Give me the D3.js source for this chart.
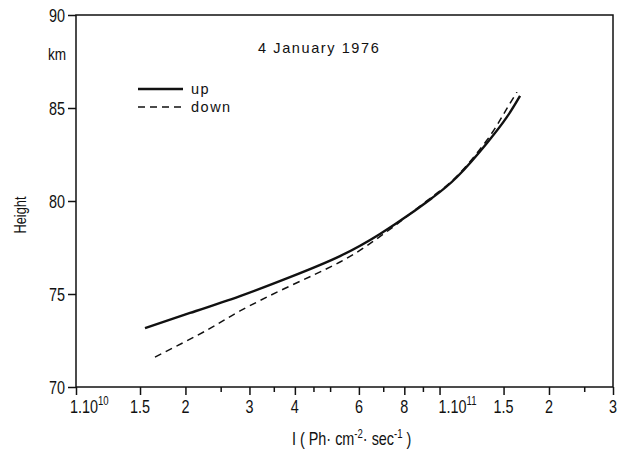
<!DOCTYPE html>
<html>
<head>
<meta charset="utf-8">
<script src="https://cdn.jsdelivr.net/npm/d3@7"></script>
<style>
  body { margin: 0; background: #fff; }
  svg { display: block; }
</style>
</head>
<body>
<div id="chart"></div>
<script>
// height profiles, I in Ph cm-2 sec-1, height in km
const upI = [1.548e10, 2.059e10, 2.826e10, 3.878e10, 5.324e10, 6.859e10, 8.293e10, 9.533e10, 1.117e11, 1.351e11, 1.533e11, 1.665e11];
const upH = [73.17, 73.98, 74.89, 75.91, 77.04, 78.23, 79.30, 80.16, 81.29, 83.12, 84.52, 85.65];
const downI = [1.649e10, 2.293e10, 2.826e10, 3.878e10, 5.324e10, 6.646e10, 8.035e10, 9.533e10, 1.117e11, 1.351e11, 1.495e11, 1.633e11];
const downH = [71.61, 73.06, 74.09, 75.43, 76.72, 77.90, 79.09, 80.22, 81.34, 83.28, 84.62, 85.86];

const xMajor = [1e10, 1.5e10, 2e10, 3e10, 4e10, 6e10, 8e10, 1e11, 1.5e11, 2e11, 3e11];
const xMajorLabels = ['1.10', '1.5', '2', '3', '4', '6', '8', '1.10', '1.5', '2', '3'];
const xMajorExp = ['10', '', '', '', '', '', '', '11', '', '', ''];
const xMinor = [2.5e10, 3.5e10, 4.5e10, 5e10, 7e10, 9e10, 2.5e11];
const yTicks = [70, 75, 80, 85, 90];

const W = 626, H = 449;
const margin = { top: 15, right: 13, bottom: 62, left: 76 };
const width = W - margin.left - margin.right;
const height = H - margin.top - margin.bottom;

const font = '"Liberation Sans", Arial, sans-serif';
const ink = '#111';
const squeeze = 0.8; // condensed look of the axis lettering

const svg = d3.select('#chart')
  .append('svg')
  .attr('width', W)
  .attr('height', H)
  .append('g')
  .attr('transform', `translate(${margin.left},${margin.top})`);

// narrow text: a group that is squeezed horizontally
function narrowText(px, py, size, anchor) {
  return svg.append('g')
    .attr('transform', `translate(${px},${py}) scale(${squeeze},1)`)
    .append('text')
    .attr('text-anchor', anchor)
    .attr('font-family', font)
    .attr('font-size', size)
    .attr('fill', ink);
}

const x = d3.scaleLog()
  .domain([1e10, 3e11])
  .range([0, width]);

const y = d3.scaleLinear()
  .domain([70, 90])
  .range([height, 0]);

// frame
svg.append('rect')
  .attr('width', width)
  .attr('height', height)
  .attr('fill', 'none')
  .attr('stroke', ink)
  .attr('stroke-width', 1.5);

// x axis: major and minor ticks
const xAxis = svg.append('g')
  .attr('transform', `translate(0,${height})`)
  .call(d3.axisBottom(x).tickValues(xMajor).tickSize(8).tickFormat(''));
xAxis.append('g')
  .call(d3.axisBottom(x).tickValues(xMinor).tickSize(5).tickFormat(''));
xAxis.selectAll('.domain').remove();
xAxis.selectAll('line').attr('stroke', ink).attr('stroke-width', 1.5);

xMajor.forEach((d, i) => {
  const hasExp = xMajorExp[i] !== '';
  const t = narrowText(x(d) + (hasExp ? (i === 0 ? -6 : -1) : 0), height + 26, 18, hasExp ? 'start' : 'middle');
  t.append('tspan').text(xMajorLabels[i]);
  if (hasExp) {
    t.append('tspan').attr('dy', -8).attr('font-size', 12).text(xMajorExp[i]);
  }
});

// y axis
const yAxis = svg.append('g')
  .call(d3.axisLeft(y).tickValues(yTicks).tickSize(8).tickFormat(''));
yAxis.selectAll('.domain').remove();
yAxis.selectAll('line').attr('stroke', ink).attr('stroke-width', 1.5);

yTicks.forEach(v => {
  narrowText(-11, y(v) + 6.5, 18, 'end').text(v);
});

narrowText(-10, 45, 17, 'end').text('km');

svg.append('g')
  .attr('transform', `translate(-50,200) rotate(-90) scale(${squeeze},1)`)
  .append('text')
  .attr('text-anchor', 'middle')
  .attr('font-family', font)
  .attr('font-size', 16)
  .attr('fill', ink)
  .text('Height');

// x title
const xt = narrowText(216, height + 58, 18, 'start');
xt.append('tspan').text('I ( Ph\u00b7 cm');
xt.append('tspan').attr('dy', -7).attr('font-size', 12).text('-2');
xt.append('tspan').attr('dy', 7).text('\u00b7 sec');
xt.append('tspan').attr('dy', -7).attr('font-size', 12).text('-1');
xt.append('tspan').attr('dy', 7).text(' )');

// title
svg.append('text')
  .attr('x', 182)
  .attr('y', 38)
  .attr('font-family', font)
  .attr('font-size', 14.5)
  .attr('letter-spacing', 1.6)
  .attr('fill', ink)
  .text('4 January 1976');

// curves
const line = d3.line()
  .x(d => x(d[0]))
  .y(d => y(d[1]))
  .curve(d3.curveNatural);

svg.append('path')
  .datum(d3.zip(downI, downH))
  .attr('d', line)
  .attr('fill', 'none')
  .attr('stroke', ink)
  .attr('stroke-width', 1.5)
  .attr('stroke-dasharray', '7,5');

svg.append('path')
  .datum(d3.zip(upI, upH))
  .attr('d', line)
  .attr('fill', 'none')
  .attr('stroke', ink)
  .attr('stroke-width', 2.4);

// legend
const legend = svg.append('g').attr('transform', 'translate(62,74)');
const legendItems = [
  { label: 'up', dash: null, w: 2.4 },
  { label: 'down', dash: '7,5', w: 1.5 }
];
legendItems.forEach((d, i) => {
  legend.append('line')
    .attr('x1', 0).attr('x2', 45)
    .attr('y1', i * 18).attr('y2', i * 18)
    .attr('stroke', ink)
    .attr('stroke-width', d.w)
    .attr('stroke-dasharray', d.dash);
  legend.append('text')
    .attr('x', 53)
    .attr('y', i * 18 + 5)
    .attr('font-family', font)
    .attr('font-size', 14.5)
    .attr('letter-spacing', 1.5)
    .attr('fill', ink)
    .text(d.label);
});
</script>
</body>
</html>
